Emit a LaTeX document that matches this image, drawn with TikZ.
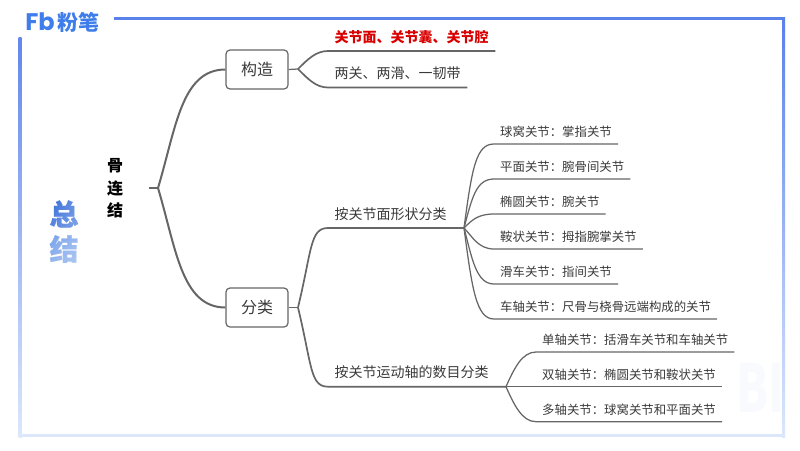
\documentclass[tikz,border=0pt]{standalone}
\usepackage{fontspec}
\usepackage{xcolor}
\usetikzlibrary{fadings}
\setmainfont{Noto Sans CJK SC}
\newfontfamily\logofont{Poppins}
\definecolor{framecol}{HTML}{5A80EA}
\definecolor{palecol}{HTML}{DCE7FC}
\definecolor{markcol}{HTML}{F8FAFE}
\definecolor{linecol}{HTML}{666666}
\definecolor{wordcol}{HTML}{3A3A3A}
\definecolor{logocol}{HTML}{3F7DEA}
\definecolor{zongcol}{HTML}{3069D8}
\definecolor{jiecol}{HTML}{4F86E4}
\tikzset{
    classbox/.style={draw=linecol, rounded corners=4pt, line width=1.2pt, minimum width=62pt, minimum height=39pt, inner sep=0pt, text=wordcol, font=\fontsize{16}{18}\selectfont},
    bigleaf/.style={anchor=south west, inner xsep=6.5pt, inner ysep=8.7pt, text depth=0pt, text=wordcol, font=\fontsize{14}{16}\selectfont},
    smallleaf/.style={anchor=south west, inner xsep=6pt, inner ysep=7.4pt, text depth=0pt, text=wordcol, font=\fontsize{12.4}{14}\selectfont},
    rootlink/.style={draw=linecol, line width=2pt},
    midlink/.style={draw=linecol, line width=1.7pt},
    leaflink/.style={draw=linecol, line width=1.25pt},
    bigword/.style={font=\fontsize{29}{30}\selectfont\bfseries\addfontfeature{FakeBold=0.6}, inner sep=0pt}
}

\begin{document}
\begin{tikzpicture}[x=1pt, y=-1pt]
    \useasboundingbox (0,0) rectangle (800,450);

    \node [anchor=west, xscale=0.7, inner sep=0pt] (mark) at (736,388) {\color{markcol}\fontsize{66}{66}\selectfont\bfseries BI};

    % frame
    \fill [framecol] (114,17) rectangle (785,20);
    \shade [top color=framecol, bottom color=palecol] (782,17) rectangle (785,437);
    \shade [top color=framecol!95, bottom color=palecol] (18.5,37) rectangle (21.5,437);
    \fill [palecol] (18.5,434) rectangle (785,437);

    % logo
    \node (logoa) at (40,22) {\color{logocol}\logofont\fontsize{24}{24}\selectfont\bfseries Fb};
    \node (logob) at (78,22) {\color{logocol}\fontsize{21}{21}\selectfont\bfseries 粉笔};

    % side title
    \node [bigword, text=zongcol] (zong) at (64,214) {总};
    \node [bigword, text=jiecol] (jie) at (64,249) {结};
    \fill [white, opacity=0.4, path fading=north] (46,198) rectangle (82,266);
    \fill [white, opacity=0.3, path fading=west] (46,198) rectangle (82,266);

    % root
    \node [align=center, inner sep=0pt, text=black, font=\fontsize{16}{22.5}\selectfont\bfseries] (root) at (115,188.7) {骨\\连\\结};
    \coordinate (rootstub) at (149,188);
    \coordinate (roothub) at (158,188);

    % first level
    \node [classbox] (gouzao) at (257,69.5) {构造};
    \node [classbox] (fenlei) at (257,307.5) {分类};
    \coordinate (gouzaohub) at (298,69);
    \coordinate (fenleihub) at (298,307.5);

    \draw [leaflink] (rootstub) -- (roothub);
    \draw [rootlink] (roothub) .. controls +(18,-60) and +(-44,0) .. (gouzao.west);
    \draw [rootlink] (roothub) .. controls +(18,60) and +(-44,0) .. (fenlei.west);
    \draw [leaflink] (gouzao.east) -- (gouzaohub);
    \draw [leaflink] (fenlei.east) -- (fenleihub);

    % under gouzao
    \node [bigleaf, text=red!85!black, font=\fontsize{14}{16}\selectfont\bfseries] (face) at (328,51) {关节面、关节囊、关节腔};
    \node [bigleaf] (liang) at (328,87.5) {两关、两滑、一韧带};
    \draw [midlink] (gouzaohub) .. controls +(10,-10) and +(-12,0) .. (face.south west) -- (face.south east);
    \draw [midlink] (gouzaohub) .. controls +(10,10) and +(-12,0) .. (liang.south west) -- (liang.south east);

    % under fenlei
    \node [bigleaf] (xingzhuang) at (328,228) {按关节面形状分类};
    \node [bigleaf] (yundong) at (328,386.7) {按关节运动轴的数目分类};
    \coordinate (xzhub) at (464,228);
    \coordinate (ydhub) at (506,386.7);
    \draw [midlink] (fenleihub) .. controls +(14,-58) and +(-18,0) .. (xingzhuang.south west) -- (xzhub);
    \draw [midlink] (fenleihub) .. controls +(14,58) and +(-18,0) .. (yundong.south west) -- (ydhub);

    \node [smallleaf] (qiuwo) at (494,144) {球窝关节：掌指关节};
    \node [smallleaf] (pingmian) at (494,179) {平面关节：腕骨间关节};
    \node [smallleaf] (tuoyuan) at (494,214) {椭圆关节：腕关节};
    \node [smallleaf] (anzhuang) at (494,249) {鞍状关节：拇指腕掌关节};
    \node [smallleaf] (huache) at (494,284) {滑车关节：指间关节};
    \node [smallleaf] (chezhou) at (494,319) {车轴关节：尺骨与桡骨远端构成的关节};
    \draw [leaflink] (xzhub) .. controls +(8,-60) and +(-18,0) .. (qiuwo.south west) -- (qiuwo.south east);
    \draw [leaflink] (xzhub) .. controls +(8,-30) and +(-18,0) .. (pingmian.south west) -- (pingmian.south east);
    \draw [leaflink] (xzhub) .. controls +(8,-8) and +(-16,0) .. (tuoyuan.south west) -- (tuoyuan.south east);
    \draw [leaflink] (xzhub) .. controls +(8,8) and +(-16,0) .. (anzhuang.south west) -- (anzhuang.south east);
    \draw [leaflink] (xzhub) .. controls +(8,30) and +(-18,0) .. (huache.south west) -- (huache.south east);
    \draw [leaflink] (xzhub) .. controls +(8,60) and +(-18,0) .. (chezhou.south west) -- (chezhou.south east);

    \node [smallleaf] (danzhou) at (536,352) {单轴关节：括滑车关节和车轴关节};
    \node [smallleaf] (shuangzhou) at (536,386.7) {双轴关节：椭圆关节和鞍状关节};
    \node [smallleaf] (duozhou) at (536,421.7) {多轴关节：球窝关节和平面关节};
    \draw [leaflink] (ydhub) .. controls +(8,-18) and +(-14,0) .. (danzhou.south west) -- (danzhou.south east);
    \draw [leaflink] (ydhub) -- (shuangzhou.south west) -- (shuangzhou.south east);
    \draw [leaflink] (ydhub) .. controls +(8,18) and +(-14,0) .. (duozhou.south west) -- (duozhou.south east);
\end{tikzpicture}
\end{document}
